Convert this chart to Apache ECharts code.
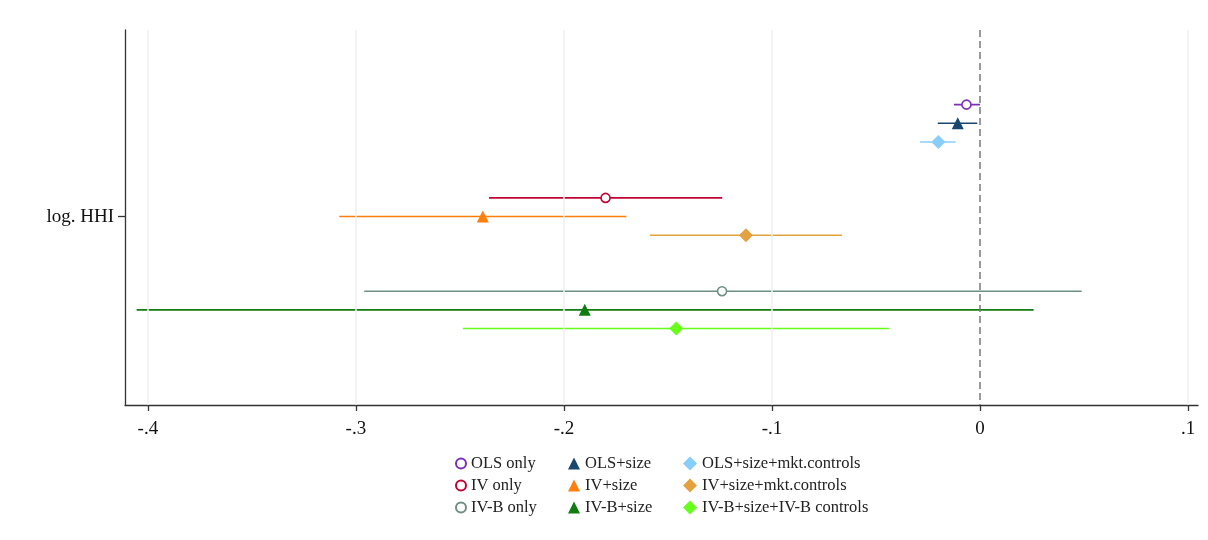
<!DOCTYPE html>
<html>
<head>
<meta charset="utf-8">
<script src="https://cdn.jsdelivr.net/npm/echarts@6/dist/echarts.min.js"></script>
<style>
  html, body { margin: 0; padding: 0; background: #fff; }
  #chart { width: 1208px; height: 540px; }
</style>
</head>
<body>
<div id="chart"></div>
<script>
// Model specifications, in plotting order (top to bottom)
const models = [
  'OLS only', 'OLS+size', 'OLS+size+mkt.controls',
  'IV only', 'IV+size', 'IV+size+mkt.controls',
  'IV-B only', 'IV-B+size', 'IV-B+size+IV-B controls'
];
// Point estimates and 95% confidence bounds for log. HHI
const estimates = [-0.0065, -0.0107, -0.0200, -0.1800, -0.2390, -0.1125, -0.1240, -0.1900, -0.1460];
const lowerCI   = [-0.0125, -0.0203, -0.0288, -0.2360, -0.3080, -0.1587, -0.2960, -0.4054, -0.2486];
const upperCI   = [ 0.0000, -0.0013, -0.0117, -0.1239, -0.1700, -0.0663,  0.0489,  0.0258, -0.0438];
// Vertical placement of each row around the coefficient's label (0)
const rowOffsets = [-1.2, -1.0, -0.8, -0.2, 0, 0.2, 0.8, 1.0, 1.2];
const colors = ['#7d2fb5', '#1a476f', '#87cefa', '#c10534', '#ff7f0e', '#e3a13f', '#6e8e84', '#0f7d0f', '#66ff1a'];
const markers = ['hollow', 'triangle', 'diamond', 'hollow', 'triangle', 'diamond', 'hollow', 'triangle', 'diamond'];
// x-axis ticks
const xTicks = [-0.4, -0.3, -0.2, -0.1, 0, 0.1];
const xTickLabels = ['-.4', '-.3', '-.2', '-.1', '0', '.1'];
const coefName = 'log. HHI';

const FONT = '"Liberation Serif", "DejaVu Serif", serif';

const series = [];

// background vertical grid lines and the zero reference line
series.push({
  type: 'line', name: '_grid', data: [], silent: true, z: 0,
  markLine: {
    silent: true, symbol: 'none', label: { show: false },
    data: xTicks.filter(v => v !== 0).map(v => ({
      xAxis: v, lineStyle: { color: '#eef1f1', width: 1.5, type: 'solid' }
    }))
  }
});
series.push({
  type: 'line', name: '_zero', data: [], silent: true, z: 1,
  markLine: {
    silent: true, symbol: 'none', label: { show: false },
    data: [{ xAxis: 0, lineStyle: { color: '#7a7a7a', width: 1.5, type: [7, 4] } }]
  }
});

models.forEach((m, i) => {
  const y = rowOffsets[i];
  series.push({
    type: 'line', name: '_ci' + i, silent: true, z: 2,
    symbol: 'none',
    lineStyle: { color: colors[i], width: 1.6 },
    data: [[lowerCI[i], y], [upperCI[i], y]]
  });
  let sym, size, itemStyle;
  if (markers[i] === 'hollow') {
    sym = 'circle'; size = 9;
    itemStyle = { color: '#fff', borderColor: colors[i], borderWidth: 1.6, opacity: 1 };
  } else if (markers[i] === 'triangle') {
    sym = 'triangle'; size = 12;
    itemStyle = { color: colors[i], opacity: 1 };
  } else {
    sym = 'diamond'; size = [14, 14];
    itemStyle = { color: colors[i], opacity: 1 };
  }
  series.push({
    type: 'scatter', name: m, z: 3,
    symbol: sym, symbolSize: size, itemStyle,
    data: [[estimates[i], y]]
  });
});

// legend: three columns (estimator type) of three rows (sample)
const legendIcon = k => markers[k] === 'triangle' ? 'triangle' : (markers[k] === 'diamond' ? 'diamond' : 'circle');
const legendCols = [[0, 3, 6], [1, 4, 7], [2, 5, 8]];
const legendLefts = [450, 563, 678];
const legendSizes = [10, 12, 14];
const legendTextGaps = [10, 8, 7];
const legends = legendCols.map((col, c) => ({
  orient: 'vertical', top: 450, left: legendLefts[c],
  itemWidth: legendSizes[c], itemHeight: legendSizes[c],
  itemGap: 5, itemTextGap: legendTextGaps[c],
  textStyle: { fontFamily: FONT, fontSize: 16.5, color: '#222' },
  data: col.map(k => ({ name: models[k], icon: legendIcon(k) }))
}));

const chart = echarts.init(document.getElementById('chart'));
chart.setOption({
  animation: false,
  backgroundColor: '#fff',
  grid: { left: 125, right: 10, top: 30, bottom: 135 },
  legend: legends,
  xAxis: {
    type: 'value', min: -0.411, max: 0.1048,
    axisLine: { show: true, onZero: false, lineStyle: { color: '#333', width: 1.3 } },
    axisTick: { show: true, customValues: xTicks, length: 6, lineStyle: { color: '#333', width: 1.3 } },
    axisLabel: {
      customValues: xTicks, margin: 15,
      formatter: v => { const k = xTicks.findIndex(t => Math.abs(t - v) < 1e-9); return k >= 0 ? xTickLabels[k] : ''; },
      fontFamily: FONT, fontSize: 19, color: '#111'
    },
    splitLine: { show: false }
  },
  yAxis: {
    type: 'value', min: -2, max: 2.02, inverse: true,
    axisLine: { show: true, onZero: false, lineStyle: { color: '#333', width: 1.3 } },
    axisTick: { show: true, customValues: [0], length: 7, lineStyle: { color: '#333', width: 1.3 } },
    axisLabel: {
      customValues: [0], margin: 11,
      formatter: () => coefName,
      fontFamily: FONT, fontSize: 19, color: '#111'
    },
    splitLine: { show: false }
  },
  series
});
</script>
</body>
</html>
